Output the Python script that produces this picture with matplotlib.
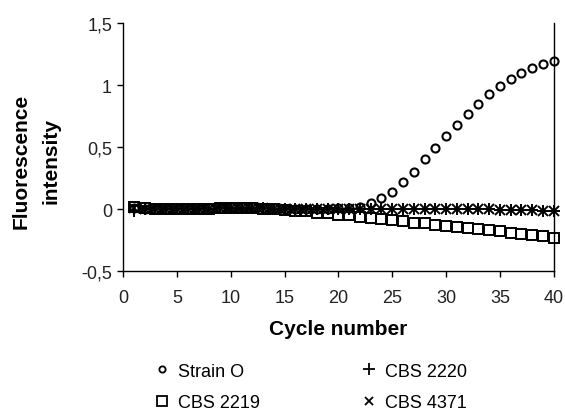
import matplotlib
matplotlib.use("Agg")
import matplotlib.pyplot as plt
from matplotlib.ticker import FuncFormatter, MultipleLocator
from matplotlib.lines import Line2D

plt.rcParams['font.family'] = ['Liberation Sans', 'DejaVu Sans']

cycles = list(range(1, 41))

strain_o = [0.01, 0.0, 0.0, 0.0, 0.0, 0.0, 0.0, 0.01, 0.01, 0.02,
            0.02, 0.02, 0.01, 0.01, 0.0, 0.0, 0.0, 0.0, 0.0, 0.01,
            0.01, 0.02, 0.05, 0.09, 0.14, 0.22, 0.30, 0.40, 0.49, 0.59,
            0.68, 0.77, 0.85, 0.93, 0.99, 1.05, 1.10, 1.14, 1.17, 1.19]

cbs_2219 = [0.02, 0.01, 0.0, 0.0, 0.0, 0.0, 0.0, 0.0, 0.01, 0.01,
            0.01, 0.01, 0.0, 0.0, -0.005, -0.015, -0.02, -0.03, -0.035, -0.045,
            -0.05, -0.065, -0.07, -0.08, -0.09, -0.10, -0.11, -0.115, -0.125, -0.135,
            -0.145, -0.15, -0.16, -0.17, -0.18, -0.19, -0.20, -0.21, -0.22, -0.23]

cbs_2220 = [-0.02, 0.0, 0.0, 0.0, 0.0, 0.0, 0.0, 0.0, 0.01, 0.01,
            0.01, 0.01, 0.01, 0.0, 0.0, 0.0, 0.0, 0.0, 0.0, 0.0,
            0.0, 0.0, 0.0, 0.0, 0.0, 0.0, 0.0, 0.0, 0.0, 0.0,
            0.0, 0.0, 0.0, 0.0, -0.005, -0.005, -0.01, -0.01, -0.015, -0.02]

cbs_4371 = [0.01, 0.0, 0.0, 0.0, 0.0, 0.0, 0.0, 0.0, 0.01, 0.01,
            0.01, 0.01, 0.01, 0.0, 0.0, 0.0, 0.0, 0.0, 0.0, 0.0,
            0.0, 0.0, 0.0, 0.0, 0.0, 0.0, 0.0, 0.0, 0.0, 0.0,
            0.0, 0.0, 0.0, 0.0, -0.005, -0.005, -0.01, -0.01, -0.015, -0.02]

fig = plt.figure(figsize=(5.65, 4.14), dpi=100)
ax = fig.add_axes([0.218, 0.343, 0.762, 0.599])

mk = dict(color='black', linestyle='none', markerfacecolor='none', clip_on=False)
ax.plot(cycles, cbs_2219, marker='s', markersize=7.5, markeredgewidth=1.4, **mk)
ax.plot(cycles, cbs_2220, marker='+', markersize=8, markeredgewidth=1.4, **mk)
ax.plot(cycles, cbs_4371, marker='x', markersize=6.5, markeredgewidth=1.4, **mk)
ax.plot(cycles, strain_o, marker='o', markersize=5.8, markeredgewidth=1.5, **mk)

ax.set_xlim(0, 40)
ax.set_ylim(-0.5, 1.5)
ax.xaxis.set_major_locator(MultipleLocator(5))
ax.yaxis.set_major_locator(MultipleLocator(0.5))
ax.yaxis.set_major_formatter(FuncFormatter(lambda v, p: ('%g' % v).replace('.', ',')))
ax.tick_params(direction='out', length=4, width=1, labelsize=13, colors='black', labelcolor='#222222')
ax.tick_params(axis='x', pad=9)
ax.tick_params(axis='y', pad=4)
ax.spines['top'].set_visible(False)
for s in ['left', 'bottom', 'right']:
    ax.spines[s].set_linewidth(1)

ax.set_xlabel('Cycle number', fontsize=15, fontweight='bold', labelpad=9)
fig.text(0.064, 0.61, 'Fluorescence\nintensity', rotation=90, ha='center', va='center',
         multialignment='center', fontsize=15, fontweight='bold', linespacing=1.7)

handles = [
    Line2D([], [], marker='o', markersize=4.5, markeredgewidth=1.3, markerfacecolor='none', color='black', linestyle='none'),
    Line2D([], [], marker='s', markersize=6.5, markeredgewidth=1.3, markerfacecolor='none', color='black', linestyle='none'),
    Line2D([], [], marker='+', markersize=8, markeredgewidth=1.3, color='black', linestyle='none'),
    Line2D([], [], marker='x', markersize=5.5, markeredgewidth=1.3, color='black', linestyle='none'),
]
labels = ['Strain O', 'CBS 2219', 'CBS 2220', 'CBS 4371']
fig.legend(handles, labels, ncol=2, loc='center', bbox_to_anchor=(0.55, 0.063),
           frameon=False, fontsize=13, handlelength=0.8, handletextpad=0.5,
           columnspacing=5.6, labelspacing=0.8, borderpad=0.2)

fig.savefig('out.png', dpi=100)
